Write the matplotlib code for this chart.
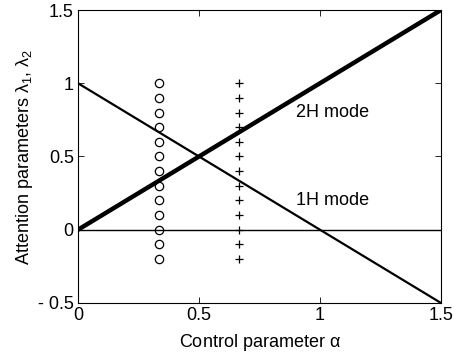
import matplotlib
matplotlib.use("Agg")
import matplotlib.pyplot as plt
import numpy as np

plt.rcParams['font.family'] = ['Liberation Sans', 'DejaVu Sans']
plt.rcParams['mathtext.fontset'] = 'custom'
plt.rcParams['mathtext.rm'] = 'Liberation Sans'
plt.rcParams['mathtext.it'] = 'Liberation Sans'

# data
alpha_range = [0.0, 1.5]
mode2h = [0.0, 1.5]
mode1h = [1.0, -0.5]
zero_line = [0.0, 0.0]
circle_x = 1/3
plus_x = 2/3
marker_y = [-0.2, -0.1, 0.0, 0.1, 0.2, 0.3, 0.4, 0.5, 0.6, 0.7, 0.8, 0.9, 1.0]
xticks = [0, 0.5, 1, 1.5]
xticklabels = ['0', '0.5', '1', '1.5']
yticks = [-0.5, 0, 0.5, 1, 1.5]
yticklabels = ['- 0.5', '0', '0.5', '1', '1.5']

fig = plt.figure(figsize=(4.54, 3.56), dpi=100)
ax = fig.add_axes([0.1718, 0.1489, 0.7996, 0.823])

ax.plot(alpha_range, zero_line, color='black', lw=1.0)
ax.plot(alpha_range, mode1h, color='black', lw=1.6)
ax.plot(alpha_range, mode2h, color='black', lw=3.2)
ax.plot([circle_x]*len(marker_y), marker_y, linestyle='none', marker='o',
        mfc='none', mec='black', ms=6, mew=0.9)
ax.plot([plus_x]*len(marker_y), marker_y, linestyle='none', marker='+',
        color='black', ms=5.5, mew=0.9)

ax.text(0.9, 0.8, '2H mode', fontsize=13, va='center', ha='left')
ax.text(0.9, 0.2, '1H mode', fontsize=13, va='center', ha='left')

ax.set_xlim(0, 1.5)
ax.set_ylim(-0.5, 1.5)
ax.set_xticks(xticks)
ax.set_xticklabels(xticklabels)
ax.set_yticks(yticks)
ax.set_yticklabels(yticklabels)
ax.tick_params(direction='in', top=True, right=True, labelsize=13, length=4, width=0.6, pad=3)
for s in ax.spines.values():
    s.set_linewidth(0.8)

ax.set_xlabel(r'Control parameter $\alpha$', fontsize=13, labelpad=6)
ax.set_ylabel(r'Attention parameters $\lambda_1$, $\lambda_2$', fontsize=13, labelpad=2)

fig.savefig('out.png', dpi=100)
